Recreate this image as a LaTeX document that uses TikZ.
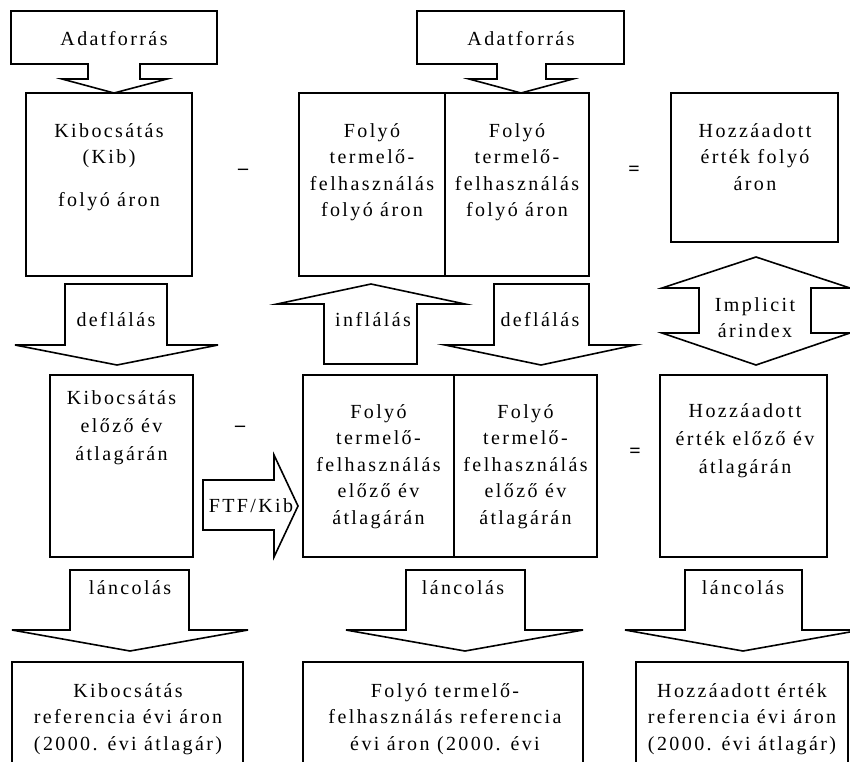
\documentclass[tikz,border=0pt]{standalone}
\usepackage{fontspec}
\setmainfont{Liberation Serif}[LetterSpace=12]
\begin{document}
\begin{tikzpicture}[x=1pt,y=-1pt,
  every node/.style={inner sep=0pt,outer sep=0pt},
  blk/.style={draw,line width=1.6pt,rectangle,anchor=north west},
  barrow/.style={draw,line width=1.6pt,line join=miter},
  txt/.style={align=center,anchor=north,font=\fontsize{20}{26.5}\selectfont},
  sign/.style={anchor=base,font=\fontsize{20}{26.5}\selectfont\bfseries}]
\useasboundingbox (0,0) rectangle (850,761);
\clip (0,0) rectangle (850,761);
\newcommand{\fs}{\rule{0pt}{14.5pt}}

% --- data sources (top) ---
\draw[barrow] (11,11) -- (217,11) -- (217,64) -- (140,64) -- (140,79) -- (167,79)
  -- (114,93) -- (62,79) -- (88,79) -- (88,64) -- (11,64) -- cycle;
\node[txt] (src1) at (114,30.5) {\fs Adatforrás};
\draw[barrow] (417,11) -- (624,11) -- (624,64) -- (546,64) -- (546,79) -- (573,79)
  -- (521,93) -- (469,79) -- (497,79) -- (497,64) -- (417,64) -- cycle;
\node[txt] (src2) at (521,30.5) {\fs Adatforrás};

% --- current-price row ---
\node[blk,minimum width=166pt,minimum height=183pt] (kib1) at (26,93) {};
\node[txt] (kib1t) at (109,122.5) {\fs Kibocsátás\\(Kib)\\[16pt]folyó áron};
\node[sign] (min1) at (243,174.6) {–};
\node[blk,minimum width=146pt,minimum height=183pt] (ftfa) at (299,93) {};
\node[blk,minimum width=144pt,minimum height=183pt] (ftfb) at (445,93) {};
\node[txt] (ftfat) at (372,122.5) {\fs Folyó\\termelő-\\felhasználás\\folyó áron};
\node[txt] (ftfbt) at (517,122.5) {\fs Folyó\\termelő-\\felhasználás\\folyó áron};
\node[sign] (eq1) at (634,175) {=};
\node[blk,minimum width=167pt,minimum height=149pt] (hoz1) at (671,93) {};
\node[txt] (hoz1t) at (755,122.5) {\fs Hozzáadott\\érték folyó\\áron};

% --- deflation / inflation arrows ---
\draw[barrow] (65,284) -- (167,284) -- (167,345) -- (218,345) -- (117,365)
  -- (15,345) -- (65,345) -- cycle;
\node[txt] (defl1) at (116,311.5) {\fs deflálás};
\draw[barrow] (371,284) -- (465,304) -- (417,304) -- (417,364) -- (324,364)
  -- (324,304) -- (277,304) -- cycle;
\node[txt] (infl) at (373,311.5) {\fs inflálás};
\draw[barrow] (494,284) -- (589,284) -- (589,345) -- (635,345) -- (541,365)
  -- (445,345) -- (494,345) -- cycle;
\node[txt] (defl2) at (540,311.5) {\fs deflálás};
\draw[barrow] (756,257) -- (850,288) -- (811,288) -- (811,333) -- (850,333)
  -- (756,365) -- (662,333) -- (699,333) -- (699,288) -- (662,288) -- cycle;
\node[txt] (impl) at (755,296.5) {\fs Implicit\\árindex};

% --- previous-year price row ---
\node[blk,minimum width=143pt,minimum height=182pt] (kib2) at (50,375) {};
\node[txt] (kib2t) at (121.5,389.5) {\fs Kibocsátás\\[1.5pt]előző év\\[1.5pt]átlagárán};
\node[sign] (min2) at (240,431.6) {–};
\draw[barrow] (203,480) -- (274,480) -- (274,455) -- (298,506) -- (274,557)
  -- (274,530) -- (203,530) -- cycle;
\node[txt] (ftfkib) at (251,497.5) {\fs FTF/Kib};
\node[blk,minimum width=151pt,minimum height=182pt] (ftfc) at (303,375) {};
\node[blk,minimum width=143pt,minimum height=182pt] (ftfd) at (454,375) {};
\node[txt] (ftfct) at (378.5,403.5) {\fs Folyó\\termelő-\\felhasználás\\előző év\\átlagárán};
\node[txt] (ftfdt) at (525.5,403.5) {\fs Folyó\\termelő-\\felhasználás\\előző év\\átlagárán};
\node[sign] (eq2) at (635,457) {=};
\node[blk,minimum width=167pt,minimum height=182pt] (hoz2) at (660,375) {};
\node[txt] (hoz2t) at (745,402.5) {\fs Hozzáadott\\[1.5pt]érték előző év\\[1.5pt]átlagárán};

% --- chaining arrows ---
\draw[barrow] (70,570) -- (189,570) -- (189,630) -- (248,630) -- (130,651)
  -- (12,630) -- (70,630) -- cycle;
\node[txt] (lanc1) at (130,579.5) {\fs láncolás};
\draw[barrow] (406,570) -- (525,570) -- (525,630) -- (583,630) -- (465,651)
  -- (346,630) -- (406,630) -- cycle;
\node[txt] (lanc2) at (463,579.5) {\fs láncolás};
\draw[barrow] (685,570) -- (802,570) -- (802,630) -- (861,630) -- (743,651)
  -- (625,630) -- (685,630) -- cycle;
\node[txt] (lanc3) at (743,579.5) {\fs láncolás};

% --- reference-year price row ---
\node[blk,minimum width=231pt,minimum height=150pt] (kib3) at (12,662) {};
\node[txt] (kib3t) at (128,682.5) {\fs Kibocsátás\\referencia évi áron\\(2000. évi átlagár)};
\node[blk,minimum width=280pt,minimum height=150pt] (ftfe) at (303,662) {};
\node[txt] (ftfet) at (445,682.5) {\fs Folyó termelő-\\felhasználás referencia\\évi áron (2000. évi};
\node[blk,minimum width=212pt,minimum height=150pt] (hoz3) at (636,662) {};
\node[txt] (hoz3t) at (742,682.5) {\fs Hozzáadott érték\\referencia évi áron\\(2000. évi átlagár)};
\end{tikzpicture}
\end{document}
